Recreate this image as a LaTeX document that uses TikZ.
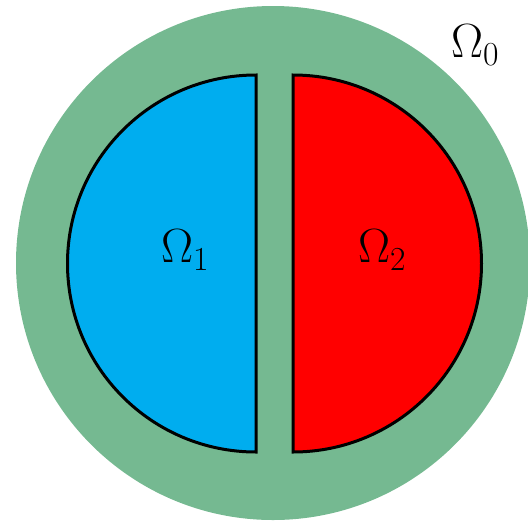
\RequirePackage{fix-cm}
\documentclass[tikz,border=0pt]{standalone}
\definecolor{ringgreen}{RGB}{117,185,145}
\definecolor{leftblue}{RGB}{0,173,239}
\begin{document}
\begin{tikzpicture}[x=1pt,y=-1pt,
  half/.style={draw=black,line width=3pt,line join=miter},
  lab/.style={font=\fontsize{48}{54}\selectfont,inner sep=0pt}]
\useasboundingbox (0,0) rectangle (528,523);
\fill[ringgreen] (273,263) circle[radius=257];
\draw[half,fill=leftblue] (256,75) arc[start angle=-90,end angle=-270,radius=188.5] -- cycle;
\draw[half,fill=red] (293,75) arc[start angle=-90,end angle=90,radius=188.5] -- cycle;
\node[lab] (o1) at (185,250) {$\Omega_1$};
\node[lab] (o2) at (382,250) {$\Omega_2$};
\node[lab] (o0) at (475,45) {$\Omega_0$};
\end{tikzpicture}
\end{document}
